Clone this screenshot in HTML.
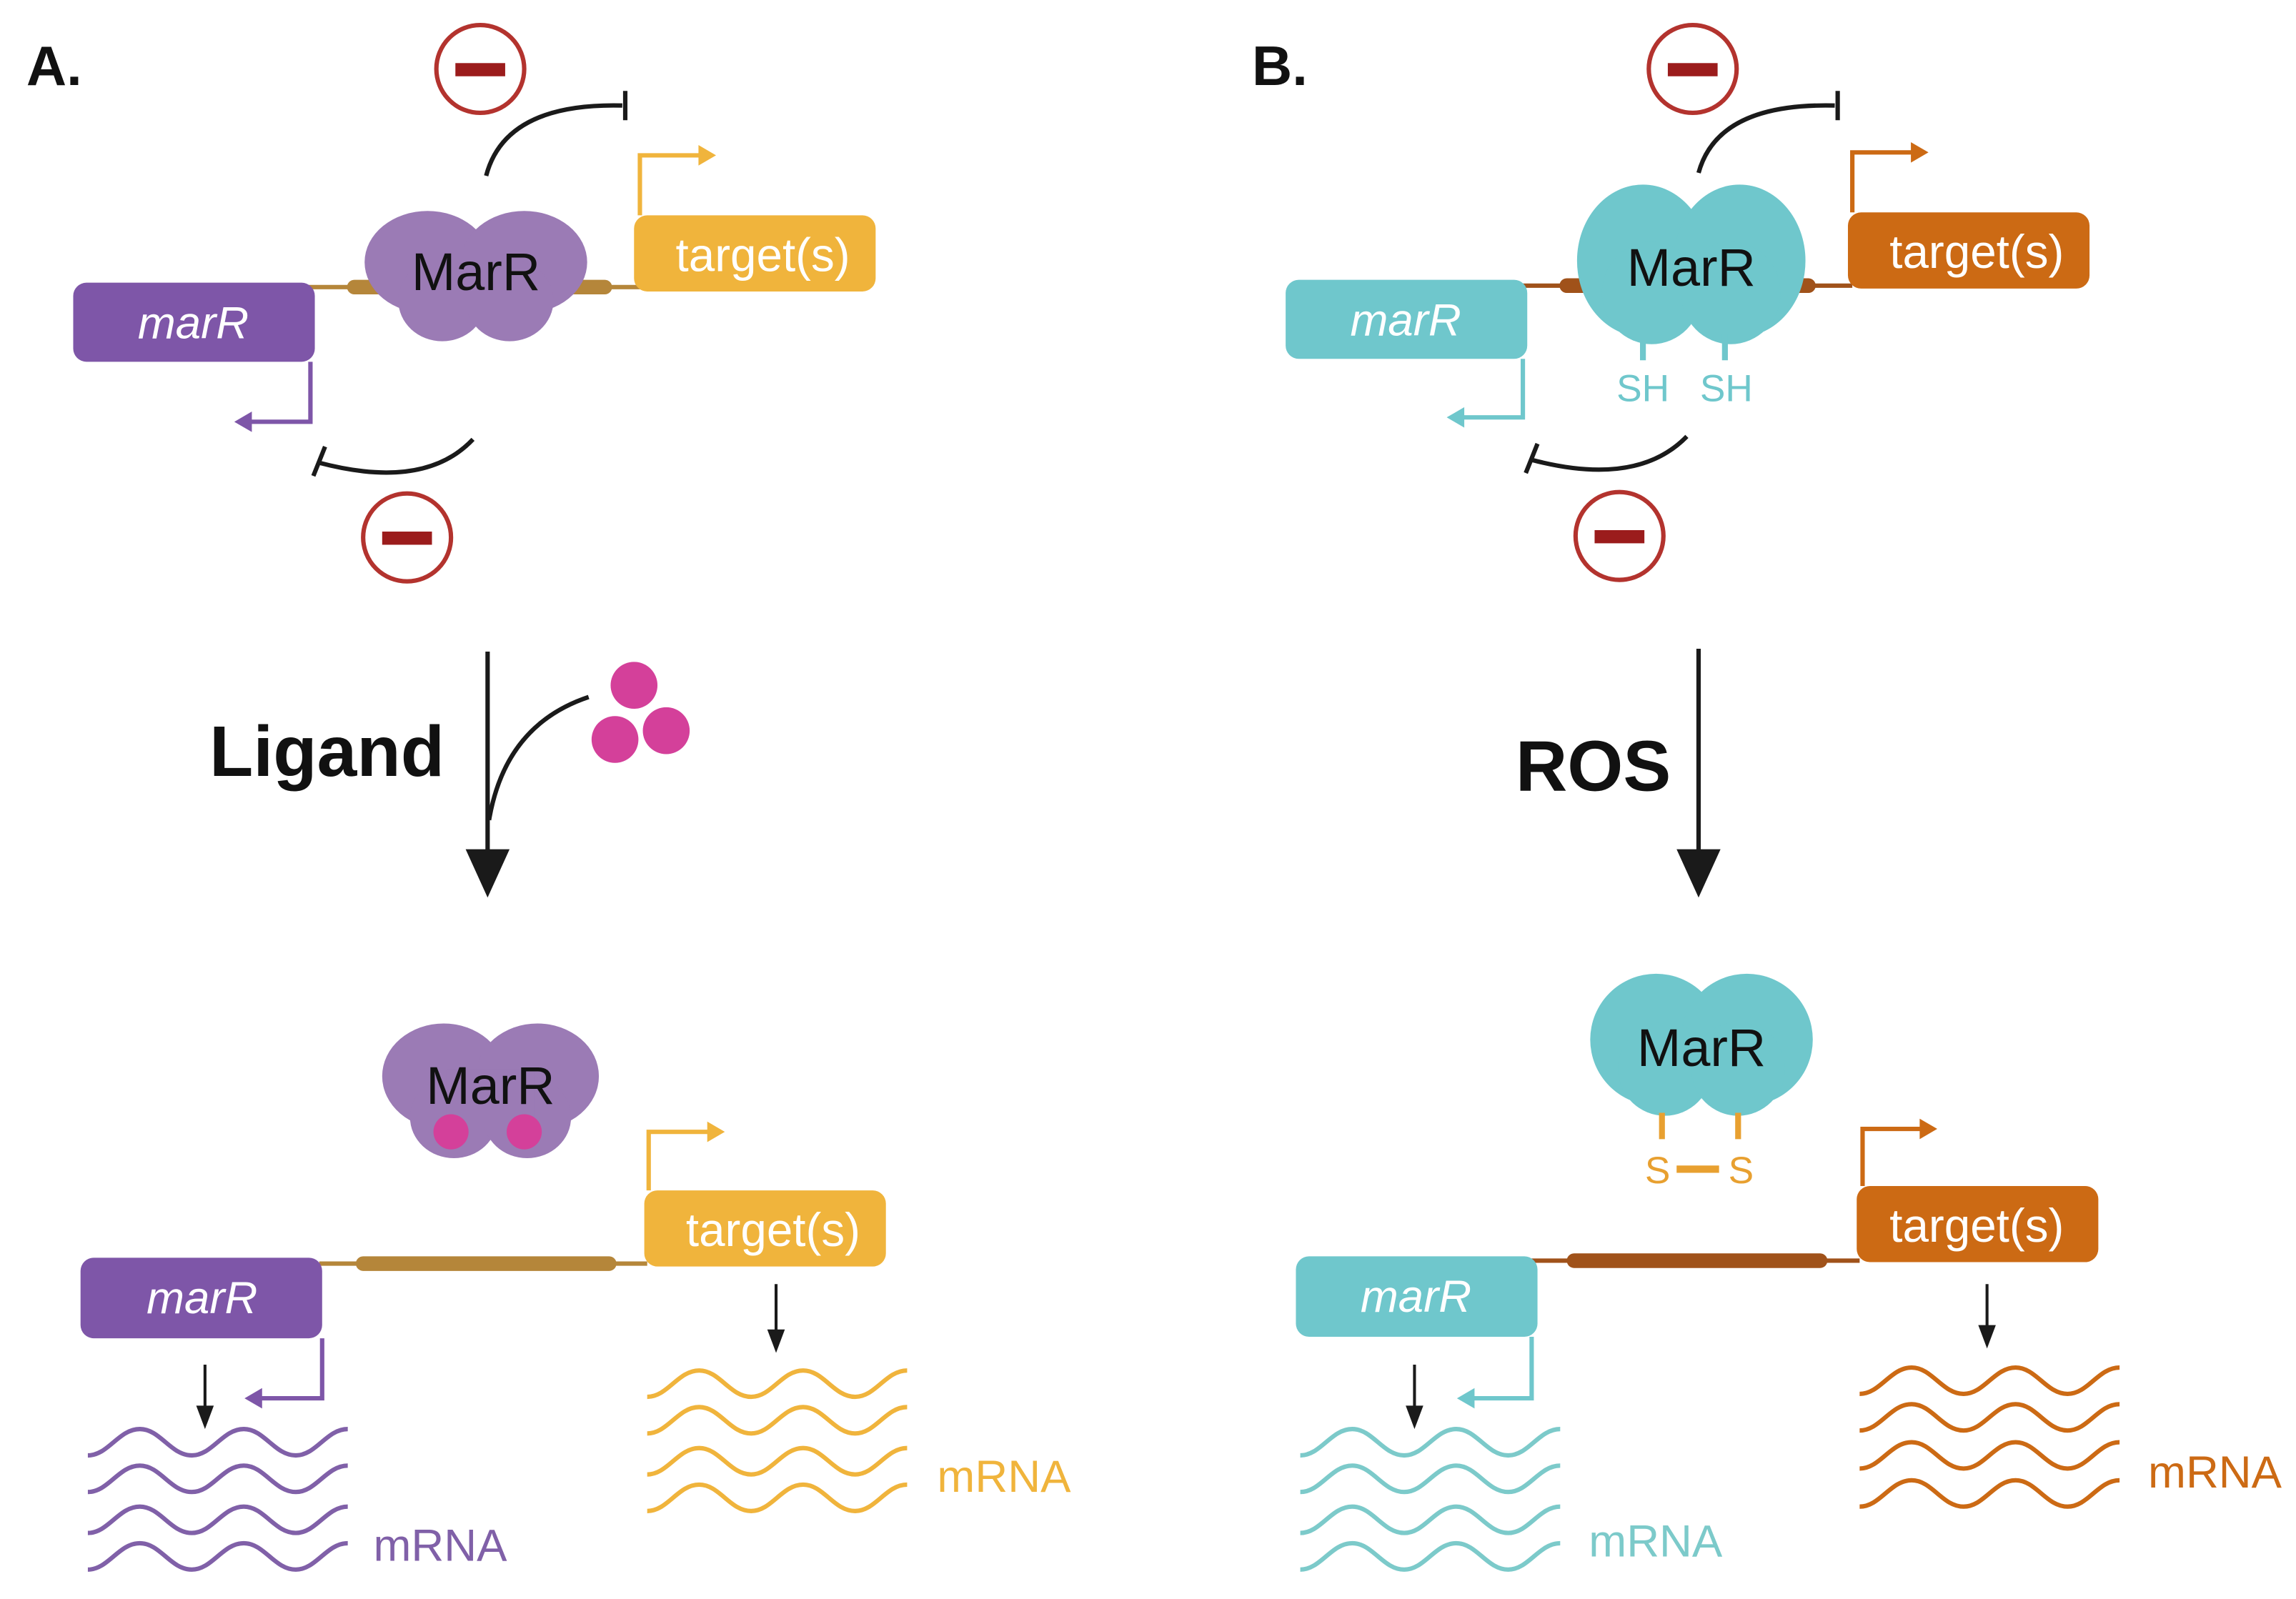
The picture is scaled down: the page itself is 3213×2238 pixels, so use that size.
<!DOCTYPE html>
<html><head><meta charset="utf-8"><style>
html,body{margin:0;padding:0;background:#fff;}
svg{display:block;}
text{font-family:"Liberation Sans",sans-serif;}
</style></head><body>
<svg width="3213" height="2238" viewBox="0 0 1568 1092" xmlns="http://www.w3.org/2000/svg">
<rect width="1568" height="1092" fill="#fff"/>

<!-- ===== Panel A ===== -->
<text x="18" y="58" font-size="38" font-weight="bold" fill="#111">A.</text>
<circle cx="328" cy="47" r="30" fill="#fff" stroke="#b3332e" stroke-width="3"/>
<rect x="311" y="43" width="34" height="9" fill="#9b1c1c"/>
<circle cx="278" cy="367" r="30" fill="#fff" stroke="#b3332e" stroke-width="3"/>
<rect x="261" y="363" width="34" height="9" fill="#9b1c1c"/>
<path d="M332,120 Q345,70 425,72" fill="none" stroke="#1a1a1a" stroke-width="3"/>
<line x1="427" y1="62" x2="427" y2="82" stroke="#1a1a1a" stroke-width="3"/>
<path d="M323,300 Q290,335 218,316" fill="none" stroke="#1a1a1a" stroke-width="3"/>
<line x1="222" y1="305" x2="214" y2="325" stroke="#1a1a1a" stroke-width="3"/>
<line x1="210" y1="196" x2="440" y2="196" stroke="#b5863a" stroke-width="3"/>
<rect x="237" y="191" width="40" height="10" rx="5" fill="#b5863a"/>
<rect x="380" y="191" width="38" height="10" rx="5" fill="#b5863a"/>
<g fill="#9b7bb5">
<ellipse cx="292" cy="179" rx="43" ry="35"/><ellipse cx="358" cy="179" rx="43" ry="35"/>
<ellipse cx="302" cy="205" rx="30" ry="28"/><ellipse cx="348" cy="205" rx="30" ry="28"/>
<rect x="295" y="170" width="60" height="40"/>
</g>
<text x="325" y="198" font-size="36" fill="#111" text-anchor="middle">MarR</text>
<rect x="50" y="193" width="165" height="54" rx="9" fill="#7e56a8"/>
<text x="132" y="231" font-size="31" font-style="italic" fill="#fff" text-anchor="middle">marR</text>
<path d="M212,247 V288 H168" fill="none" stroke="#7e56a8" stroke-width="3"/>
<path d="M160,288 L172,281 L172,295z" fill="#7e56a8"/>
<rect x="433" y="147" width="165" height="52" rx="9" fill="#f0b43c"/>
<text x="521" y="185" font-size="32" fill="#fff" text-anchor="middle">target(s)</text>
<path d="M437,147 V106 H480" fill="none" stroke="#f0b43c" stroke-width="3"/>
<path d="M489,106 L477,99 L477,113z" fill="#f0b43c"/>
<line x1="333" y1="445" x2="333" y2="585" stroke="#1a1a1a" stroke-width="3"/>
<path d="M318,580 L348,580 L333,613z" fill="#1a1a1a"/>
<path d="M334,560 Q345,495 402,476" fill="none" stroke="#1a1a1a" stroke-width="3"/>
<text x="143" y="530" font-size="49" font-weight="bold" fill="#111">Ligand</text>
<circle cx="433" cy="468" r="16" fill="#d4409a"/>
<circle cx="420" cy="505" r="16" fill="#d4409a"/>
<circle cx="455" cy="499" r="16" fill="#d4409a"/>
<g fill="#9b7bb5">
<ellipse cx="303" cy="735" rx="42" ry="36"/><ellipse cx="367" cy="735" rx="42" ry="36"/>
<ellipse cx="310" cy="763" rx="30" ry="28"/><ellipse cx="360" cy="763" rx="30" ry="28"/>
<rect x="305" y="730" width="60" height="40"/>
</g>
<text x="335" y="754" font-size="36" fill="#111" text-anchor="middle">MarR</text>
<circle cx="308" cy="773" r="12" fill="#d4409a"/>
<circle cx="358" cy="773" r="12" fill="#d4409a"/>
<line x1="218" y1="863" x2="442" y2="863" stroke="#b5863a" stroke-width="3"/>
<rect x="243" y="858" width="178" height="10" rx="5" fill="#b5863a"/>
<rect x="55" y="859" width="165" height="55" rx="9" fill="#7e56a8"/>
<text x="138" y="897" font-size="31" font-style="italic" fill="#fff" text-anchor="middle">marR</text>
<path d="M220,914 V955 H176" fill="none" stroke="#7e56a8" stroke-width="3"/>
<path d="M167,955 L179,948 L179,962z" fill="#7e56a8"/>
<rect x="440" y="813" width="165" height="52" rx="9" fill="#f0b43c"/>
<text x="528" y="851" font-size="32" fill="#fff" text-anchor="middle">target(s)</text>
<path d="M443,813 V773 H486" fill="none" stroke="#f0b43c" stroke-width="3"/>
<path d="M495,773 L483,766 L483,780z" fill="#f0b43c"/>
<line x1="140" y1="932" x2="140" y2="962" stroke="#1a1a1a" stroke-width="2"/>
<path d="M134,960 L146,960 L140,976z" fill="#1a1a1a"/>
<line x1="530" y1="877" x2="530" y2="910" stroke="#1a1a1a" stroke-width="2"/>
<path d="M524,908 L536,908 L530,924z" fill="#1a1a1a"/>
<g fill="none" stroke="#8060a8" stroke-width="3">
<path id="w" d="M60,994 c14,0 21,-18 35.5,-18 c14,0 21,18 35.5,18 c14,0 21,-18 35.5,-18 c14,0 21,18 35.5,18 c14,0 21,-18 35.5,-18"/>
<use href="#w" y="25"/><use href="#w" y="53"/><use href="#w" y="78"/>
</g>
<text x="255" y="1066" font-size="31" fill="#8060a8">mRNA</text>
<g fill="none" stroke="#f0b43c" stroke-width="3">
<path id="wy" d="M442,954 c14,0 21,-18 35.5,-18 c14,0 21,18 35.5,18 c14,0 21,-18 35.5,-18 c14,0 21,18 35.5,18 c14,0 21,-18 35.5,-18"/>
<use href="#wy" y="25"/><use href="#wy" y="53"/><use href="#wy" y="78"/>
</g>
<text x="640" y="1019" font-size="31" fill="#f0b43c">mRNA</text>

<!-- ===== Panel B ===== -->
<text x="855" y="58" font-size="38" font-weight="bold" fill="#111">B.</text>
<circle cx="1156" cy="47" r="30" fill="#fff" stroke="#b3332e" stroke-width="3"/>
<rect x="1139" y="43" width="34" height="9" fill="#9b1c1c"/>
<circle cx="1106" cy="366" r="30" fill="#fff" stroke="#b3332e" stroke-width="3"/>
<rect x="1089" y="362" width="34" height="9" fill="#9b1c1c"/>
<path d="M1160,118 Q1173,70 1253,72" fill="none" stroke="#1a1a1a" stroke-width="3"/>
<line x1="1255" y1="62" x2="1255" y2="82" stroke="#1a1a1a" stroke-width="3"/>
<path d="M1152,298 Q1118,333 1046,314" fill="none" stroke="#1a1a1a" stroke-width="3"/>
<line x1="1050" y1="303" x2="1042" y2="323" stroke="#1a1a1a" stroke-width="3"/>
<line x1="1040" y1="195" x2="1265" y2="195" stroke="#a0521a" stroke-width="3"/>
<rect x="1065" y="190" width="28" height="10" rx="5" fill="#a0521a"/>
<rect x="1210" y="190" width="30" height="10" rx="5" fill="#a0521a"/>
<g fill="#6fc7cc">
<ellipse cx="1122" cy="178" rx="45" ry="52"/><ellipse cx="1188" cy="178" rx="45" ry="52"/>
<ellipse cx="1128" cy="200" rx="34" ry="35"/><ellipse cx="1182" cy="200" rx="34" ry="35"/>
</g>
<text x="1155" y="195" font-size="36" fill="#111" text-anchor="middle">MarR</text>
<line x1="1122" y1="228" x2="1122" y2="246" stroke="#6fc7cc" stroke-width="4"/>
<line x1="1178" y1="228" x2="1178" y2="246" stroke="#6fc7cc" stroke-width="4"/>
<text x="1122" y="274" font-size="26" fill="#6fc7cc" text-anchor="middle">SH</text>
<text x="1179" y="274" font-size="26" fill="#6fc7cc" text-anchor="middle">SH</text>
<rect x="878" y="191" width="165" height="54" rx="9" fill="#6fc7cc"/>
<text x="960" y="229" font-size="31" font-style="italic" fill="#fff" text-anchor="middle">marR</text>
<path d="M1040,245 V285 H996" fill="none" stroke="#6fc7cc" stroke-width="3"/>
<path d="M988,285 L1000,278 L1000,292z" fill="#6fc7cc"/>
<rect x="1262" y="145" width="165" height="52" rx="9" fill="#cc6a14"/>
<text x="1350" y="183" font-size="32" fill="#fff" text-anchor="middle">target(s)</text>
<path d="M1265,145 V104 H1308" fill="none" stroke="#cc6a14" stroke-width="3"/>
<path d="M1317,104 L1305,97 L1305,111z" fill="#cc6a14"/>
<line x1="1160" y1="443" x2="1160" y2="585" stroke="#1a1a1a" stroke-width="3"/>
<path d="M1145,580 L1175,580 L1160,613z" fill="#1a1a1a"/>
<text x="1035" y="540" font-size="49" font-weight="bold" fill="#111">ROS</text>
<g fill="#6fc7cc">
<ellipse cx="1131" cy="710" rx="45" ry="45"/><ellipse cx="1193" cy="710" rx="45" ry="45"/>
<ellipse cx="1137" cy="730" rx="32" ry="32"/><ellipse cx="1187" cy="730" rx="32" ry="32"/>
</g>
<text x="1162" y="728" font-size="36" fill="#111" text-anchor="middle">MarR</text>
<line x1="1135" y1="760" x2="1135" y2="778" stroke="#e8a030" stroke-width="4"/>
<line x1="1187" y1="760" x2="1187" y2="778" stroke="#e8a030" stroke-width="4"/>
<text x="1132" y="808" font-size="26" fill="#e8a030" text-anchor="middle">S</text>
<text x="1189" y="808" font-size="26" fill="#e8a030" text-anchor="middle">S</text>
<rect x="1145" y="796" width="29" height="5" fill="#e8a030"/>
<line x1="1045" y1="861" x2="1270" y2="861" stroke="#a0521a" stroke-width="3"/>
<rect x="1070" y="856" width="178" height="10" rx="5" fill="#a0521a"/>
<rect x="885" y="858" width="165" height="55" rx="9" fill="#6fc7cc"/>
<text x="967" y="896" font-size="31" font-style="italic" fill="#fff" text-anchor="middle">marR</text>
<path d="M1046,913 V955 H1003" fill="none" stroke="#6fc7cc" stroke-width="3"/>
<path d="M995,955 L1007,948 L1007,962z" fill="#6fc7cc"/>
<rect x="1268" y="810" width="165" height="52" rx="9" fill="#cc6a14"/>
<text x="1350" y="848" font-size="32" fill="#fff" text-anchor="middle">target(s)</text>
<path d="M1272,810 V771 H1314" fill="none" stroke="#cc6a14" stroke-width="3"/>
<path d="M1323,771 L1311,764 L1311,778z" fill="#cc6a14"/>
<line x1="966" y1="932" x2="966" y2="962" stroke="#1a1a1a" stroke-width="2"/>
<path d="M960,960 L972,960 L966,976z" fill="#1a1a1a"/>
<line x1="1357" y1="877" x2="1357" y2="907" stroke="#1a1a1a" stroke-width="2"/>
<path d="M1351,905 L1363,905 L1357,921z" fill="#1a1a1a"/>
<g fill="none" stroke="#7ccaca" stroke-width="3">
<path id="wt" d="M888,994 c14,0 21,-18 35.5,-18 c14,0 21,18 35.5,18 c14,0 21,-18 35.5,-18 c14,0 21,18 35.5,18 c14,0 21,-18 35.5,-18"/>
<use href="#wt" y="25"/><use href="#wt" y="53"/><use href="#wt" y="78"/>
</g>
<text x="1085" y="1063" font-size="31" fill="#7ccaca">mRNA</text>
<g fill="none" stroke="#cc6a14" stroke-width="3">
<path id="wo" d="M1270,952 c14,0 21,-18 35.5,-18 c14,0 21,18 35.5,18 c14,0 21,-18 35.5,-18 c14,0 21,18 35.5,18 c14,0 21,-18 35.5,-18"/>
<use href="#wo" y="25"/><use href="#wo" y="51"/><use href="#wo" y="77"/>
</g>
<text x="1467" y="1016" font-size="31" fill="#cc6a14">mRNA</text>
</svg>
</body></html>
